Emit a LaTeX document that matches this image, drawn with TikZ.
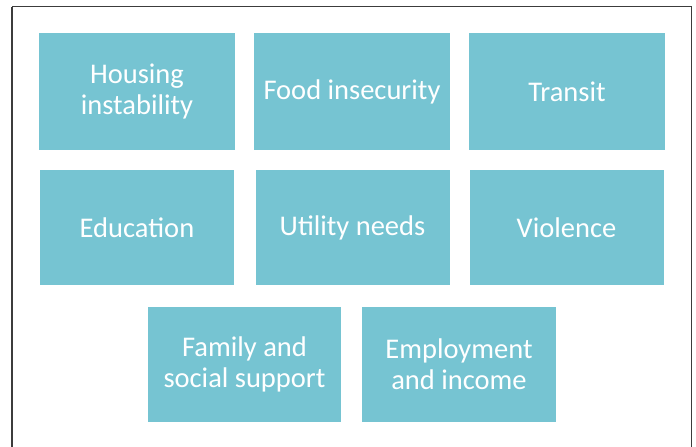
\documentclass[tikz,border=0pt]{standalone}
\usepackage{fontspec}
\setmainfont{Carlito}
\definecolor{tile}{HTML}{76C4D2}
\definecolor{framec}{HTML}{3C3C3C}
\tikzset{
  tilebox/.style={fill=tile, draw=none, text=white, align=center,
    font=\fontsize{28.5}{31}\selectfont, inner sep=0pt},
}
\begin{document}
\begin{tikzpicture}[x=1pt,y=-1pt]
\useasboundingbox (0,0) rectangle (696,447);
\clip (0,0) rectangle (696,447);
\draw[framec, line width=1.5pt] (12,6.5) -- (691.5,6.5) -- (691.5,470) (12,470) -- (12,6.5);
% row 1
\node[tilebox, minimum width=196pt, minimum height=117pt] (h) at (137,91.5) {Housing\\instability};
\node[tilebox, minimum width=196pt, minimum height=117pt] (f) at (352,91.5) {Food insecurity};
\node[tilebox, minimum width=196pt, minimum height=117pt] (t) at (567,91.5) {Transit};
% row 2
\node[tilebox, minimum width=194pt, minimum height=115pt] (e) at (137,227.5) {Education};
\node[tilebox, minimum width=194pt, minimum height=115pt] (u) at (352.5,227.5) {Utility needs};
\node[tilebox, minimum width=194pt, minimum height=115pt] (v) at (566.5,227.5) {Violence};
% row 3
\node[tilebox, minimum width=193pt, minimum height=115pt] (fs) at (244.5,364.5) {\raisebox{-3pt}{Family and}\\\raisebox{-3pt}{social support}};
\node[tilebox, minimum width=194pt, minimum height=115pt] (ei) at (459,364.5) {\raisebox{-1.5pt}{Employment}\\\raisebox{-1.5pt}{and income}};
\end{tikzpicture}
\end{document}
